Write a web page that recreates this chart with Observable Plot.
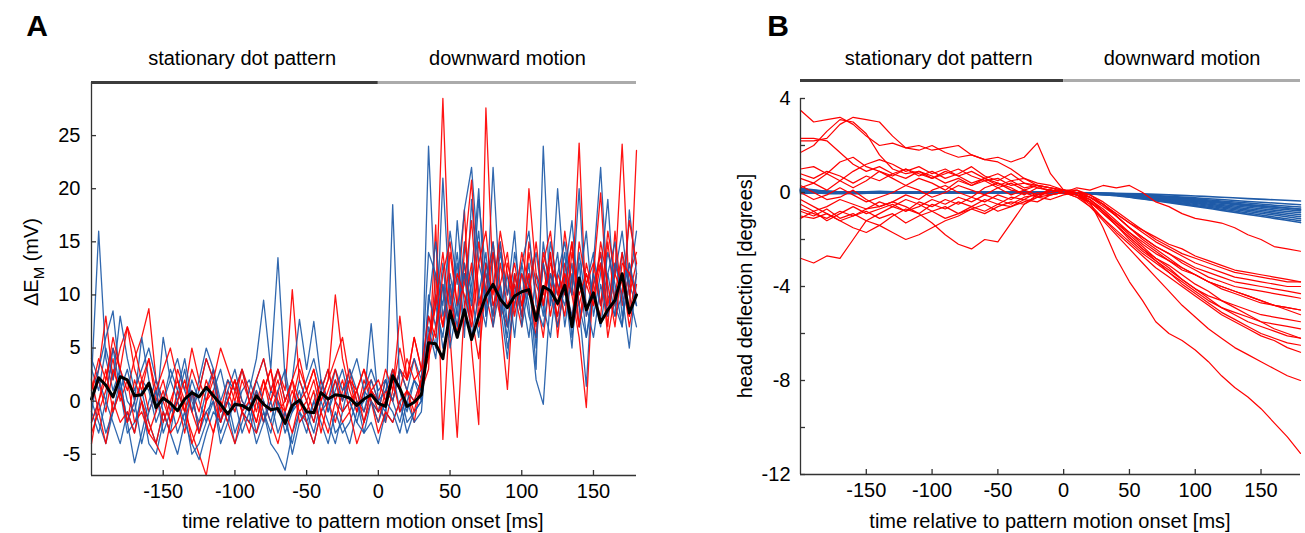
<!DOCTYPE html>
<html><head><meta charset="utf-8">
<script src="https://cdn.jsdelivr.net/npm/d3@7"></script>
<script src="https://cdn.jsdelivr.net/npm/@observablehq/plot@0.6"></script>
<style>
body{margin:0;background:#fff}
#wrap{position:relative;width:1305px;height:533px;font-family:"Liberation Sans",Arial,sans-serif}
#wrap svg{position:absolute;top:0}
</style></head><body><div id="wrap"></div>
<script>
// ---------- Panel A: membrane potential traces (mV), sampled every 5 ms ----------
const timesA = d3.range(-200, 181, 5);
const blueA = [
 [2,16,4,1,3,0,-1,2,1,-2, 0,3,1,-1,2,0,-2,1,3,0, -1,1,2,0,-2,1,0,-3,-1,2, 0,-2,1,3,0,-1,2,0,-2,1, 0,-1,3,1,-1,2,0,24,9,6, 12,8,15,10,6,13,9,11,7,14, 10,6,12,8,15,11,9,13,7,11, 14,9,12,8,10,13,9],
 [-1,3,6,8.5,2,-2,-5.8,-3,0,2, -1,-3,1,4,0,-2,1,3,-1,0, 2,-1,1,4,9.5,3,13.5,2,-1,1, -2,0,2,-1,1,3,0,-2,1,0, -1,2,0,-2,1,0,2,8,5,21, 9,14,7,11,16,8,22,10,6,12, 9,13,5,15,10,8,12,17,9,6, 11,14,8,12,16,10,7],
 [0,-2,-4,-1,1,-3,-2,0,-4,-5, -2,0,-3,-1,-5,-4,-2,0,-3,-1, -4,-2,0,-3,-1,-4,-5,-6.5,-3,-1, -2,-4,-1,0,-3,-2,-4,-1,0,7.3, 0,-2,18.5,1,-2,-1,0,6,10,5, 8,13,6,19,10,7,14,9,4,11, 8,12,3,24,9,20,11,8,13,6, 10,7,12,15,8,11,9],
 [3,1,5,2,8,4,1,3,5,2, 0,2,4,1,-1,2,5,3,0,2, 1,3,0,2,4,1,3,0,2,7.7, 3,7.5,2,0,3,1,2,4,1,3, 1,2,0,3,1,4,2,14,12,9, 16,11,18,22,13,10,15,8,12,6, 13,9,2,-0.3,10,14,7,12,9,1.4, 13,22,10,8,14,11,16],
 [-1,-3,0,-2,-4,-1,-3,1,-2,-4, -1,-3,-5,-2,-4,-5.5,-3,-1,-2,0, -3,-1,-2,1,-1,-3,0,-2,-4,-1, -3,0,-2,-4,-1,-3,-2,0,-3,-2, -4,-1,-2,0,-3,-1,0,10,7,13, 6,17,9,12,20,8,11,15,7,10, 13,16,9,7,12,10,14,6,11,16, 8,12,19,9,7,13,10],
 [4,2,0,5,1,3,0,6,2,-1, 6,2,0,3,-1,1,4,2,-2,1, 3,0,-1,2,0,-2,1,3,-1,0, 2,4,1,-1,2,0,3,1,-1,2, 0,1,3,-1,0,2,1,9,15,8, 11,7,13,9,19,12,8,14,10,16, 7,11,14,9,6,12,15,10,20,8, 12,9,14,11,7,18,12],
 [-2,0,-3,-1,2,-2,0,-4,-1,1, -3,-1,0,-2,1,-3,-1,0,-4,-2, 0,-3,-1,-4,-2,0,-3,-1,-5,-2, -1,-3,0,-2,-4,-1,0,-2,-3,0, -2,0,-1,-3,0,-2,-1,7,4,11, 5,9,12,6,10,14,7,11,5,9, 12,8,6,13,10,7,11,5,14,9, 6,11,8,13,10,5,12]
];
const redA = [
 [1,3,8,2,5,7,3,1,4,0, 2,-1,3,1,5,2,0,3,-1,2, 0,3,1,-1,2,0,3,1,10.5,2, 0,-2,1,3,0,2,-1,1,3,0, -1,2,0,3,1,-2,2,5,9,28.5, 10,6,13,8,4,11,15,9,7,12, 8,14,10,6,12,9,16,11,7,13, 10,8,15,9,12,7,11],
 [-4,0,2,5,3,1,4,6,8.7,2, 0,-2,1,-1,-3,-5,-7,-3,0,-2, 1,-1,-3,0,2,-1,1,-2,0,3, 1,-1,2,0,-2,1,3,0,-1,1, 0,-2,1,5,2,6,3,4,12,7, 14,9,18,5,-2.2,27.6,11,8,13,10, 7,15,11,9,14,6,12,10,24.3,8, 11,13,7,16,9,12,14],
 [2,-1,1,4,0,2,-2,-1,-3,-4, -5.4,-2,0,-3,1,-1,2,0,-2,1, -1,2,0,-2,1,3,0,-1,2,0, 1,3,0,2,10,4,1,-1,2,0, -2,1,0,3,2,4,1,3,16.6,-3.6, 9,6,12,8,15,10,7,13,9,11, 8,20,12,10,14,7,11,15,9,12, 10,14,8,12,24.2,10,13],
 [0,2,-1,3,1,-2,0,2,-1,1, -2,0,2,-1,1,-3,0,2,-1,0, 2,0,-1,1,-2,0,2,-1,1,-1, 0,2,-1,1,3,0,2,-1,1,2, 0,3,1,8,2,6,3,5,10,7, 11,6,14,20.8,9,12,8,15,10,13, 9,12,7,14,11,8,13,10,6,-0.6, 12,19.6,9,13,11,8,23.6],
 [-3,-1,-4,0,-2,-1,-3,0,-2,-4, -1,-3,-2,0,-4,-2,-1,-3,0,-2, -4,-1,-2,-3,0,-2,-4,-1,-3,0, -2,-4,-1,-3,0,-2,-1,-4,-2,0, -3,-1,-2,0,1,-1,2,4,7,11, 6,-3.4,9,13,7,10,14,8,1.1,12, 9,11,6,13,8,12,10,15,7,11, 9,13,6,10,14,8,12],
 [1,4,2,6,3,7,5,2,4,1, 3,5,2,0,3,1,4,2,5,3, 1,3,0,2,4,1,3,0,2,4, 1,3,0,2,4,6,2,1,3,1, 2,0,3,1,4,2,3,8,6,12, 15,9,11,17,8,13,10,16,12,9, 14,11,8,13,16,10,12,7,15,11, 13,9,16,12,10,17,13],
 [-2,0,3,-1,1,-2,2,0,-3,-1, 1,-2,0,2,-1,-3,0,1,-2,0, 2,-1,0,-2,1,3,-1,0,2,-2, -1,1,-3,0,2,-1,0,1,-2,1, -1,0,2,-1,1,0,2,6,9,14, 8,12,10,7,13,16,9,11,14,8, 12,10,15,9,13,11,8,14,10,12, 9,15,11,7,13,12,10]
];
const meanA = [0.2,2.2,1.5,0.4,2.3,2.0,0.5,0.6,1.7,-0.6, 0.3,-0.2,-0.9,0.2,0.8,0.4,1.3,0.5,-0.3,-1.2, -0.3,-0.4,-0.8,0.5,-0.3,-0.8,-0.7,-2.1,-0.4,0.1, -1.0,-1.1,0.8,0.2,0.6,0.5,0.3,-0.4,0.2,0.6, -0.2,-0.5,2.4,1.2,-0.5,-0.1,0.6,5.5,5.4,4.0, 8.5,6.0,8.6,5.8,8.0,9.9,11.0,9.6,8.8,9.9, 10.3,10.5,7.6,10.8,10.4,9.2,10.9,7.0,11.6,8.6, 10.2,7.4,8.6,9.5,12.0,8.3,10.0];

// ---------- Panel B: head deflection traces (degrees) ----------
const timesB = d3.range(-200, 181, 10);
const redB = [
 [3.5,3.0,3.1,3.2,2.9,2.4,2.0,2.1,1.9,1.8,2.0,1.7,1.5,1.6,1.4,1.3,1.0,0.6,0.3,0.2,0.1, 0.0,-0.3,-0.8,-1.3,-1.7,-2.2,-2.6,-2.9,-3.3,-3.5,-3.8,-4.0,-4.2,-4.4,-4.6,-4.8,-4.9,-5.0],
 [2.2,2.2,2.3,2.9,3.2,3.1,3.0,2.4,1.9,2.0,1.8,1.9,2.0,1.6,1.4,1.5,1.3,1.5,2.1,0.8,0.1, 0.1,-0.2,-0.5,-1.0,-1.5,-1.9,-2.3,-2.6,-3.0,-3.3,-3.6,-3.8,-4.0,-4.1,-4.2,-4.3,-4.4,-4.5],
 [1.7,2.0,2.6,3.1,3.0,2.5,1.6,1.0,0.8,0.9,0.6,0.8,1.0,0.7,0.5,0.6,0.3,0.4,0.2,0.1,0.0, -0.1,-0.4,-0.9,-1.4,-1.9,-2.4,-2.8,-3.1,-3.5,-3.9,-4.2,-4.6,-4.9,-5.2,-5.5,-5.8,-6.0,-6.2],
 [1.0,1.1,0.8,1.3,1.5,1.1,0.9,0.7,1.0,0.8,0.6,0.9,0.7,0.4,0.6,0.3,0.5,0.2,0.3,0.0,0.1, 0.0,-0.2,-0.5,-0.9,-1.3,-1.6,-1.9,-2.2,-2.4,-2.7,-2.9,-3.1,-3.3,-3.4,-3.5,-3.6,-3.7,-3.8],
 [0.6,0.4,0.8,0.5,0.2,0.5,0.9,0.6,0.3,0.6,0.4,0.1,0.5,0.3,0.6,0.4,0.2,-0.1,0.2,0.1,0.0, -0.2,-0.4,-0.9,-1.4,-2.0,-2.5,-2.9,-3.3,-3.7,-4.1,-4.4,-4.6,-4.8,-5.0,-5.2,-5.3,-5.4,-5.5],
 [0.3,0.0,-0.3,-0.2,0.1,-0.3,-0.6,-0.4,-0.1,-0.3,0.1,0.3,0.0,-0.2,0.2,0.4,0.1,0.0,-0.2,0.1,0.0, -0.1,-0.5,-1.1,-1.7,-2.2,-2.7,-3.2,-3.6,-4.0,-4.4,-4.8,-5.2,-5.5,-5.8,-6.1,-6.3,-6.6,-6.8],
 [-0.5,-0.8,-0.6,-0.3,-0.5,-0.7,-0.6,-0.4,-0.6,-0.9,-1.3,-1.8,-2.2,-2.4,-2.0,-2.1,-1.3,-0.5,-0.1,0.1,0.0, -0.1,-0.6,-1.2,-1.8,-2.4,-3.0,-3.6,-4.2,-4.8,-5.3,-5.8,-6.2,-6.6,-6.9,-7.2,-7.5,-7.8,-8.0],
 [-0.8,-1.0,-0.7,-1.1,-0.9,-1.2,-1.4,-1.7,-2.0,-1.8,-1.5,-1.2,-1.0,-0.7,-0.9,-0.6,-0.4,-0.5,-0.2,-0.1,0.0, 0.1,-0.1,-0.5,-1.0,-1.5,-2.0,-2.4,-2.8,-3.2,-3.5,-3.8,-4.1,-4.3,-4.5,-4.7,-4.8,-4.9,-5.0],
 [-2.8,-3.0,-2.7,-2.8,-2.0,-1.2,-0.9,-0.6,-0.8,-0.4,-0.6,-0.3,-0.5,-0.2,-0.4,-0.1,-0.3,0.0,-0.2,0.1,0.0, 0.0,-0.4,-1.5,-2.8,-3.8,-4.6,-5.5,-6.0,-6.3,-6.7,-7.2,-7.8,-8.3,-8.7,-9.2,-9.8,-10.4,-11.1],
 [-1.0,-1.1,-0.9,-1.2,-1.0,-0.8,-1.1,-0.9,-1.3,-1.0,-0.8,-1.1,-0.9,-0.6,-0.8,-0.5,-0.6,-0.3,-0.4,-0.1,0.0, 0.2,0.1,0.3,0.2,0.3,0.0,-0.4,-0.6,-0.9,-1.1,-1.2,-1.3,-1.5,-1.8,-2.0,-2.3,-2.4,-2.5],
 [0.0,-0.3,-0.1,0.2,-0.1,-0.4,-0.2,0.0,0.3,0.1,-0.2,0.0,0.3,0.1,-0.1,0.2,-0.1,0.1,-0.1,0.0,0.1, -0.1,-0.3,-0.8,-1.3,-1.8,-2.3,-2.8,-3.2,-3.7,-4.1,-4.5,-4.9,-5.2,-5.5,-5.7,-5.9,-6.1,-6.2],
 [0.8,0.6,0.9,0.7,0.4,0.7,0.5,0.8,1.0,0.7,0.9,0.6,0.8,1.1,0.7,0.5,0.8,0.4,0.3,0.2,0.1, 0.0,-0.2,-0.6,-1.0,-1.5,-1.9,-2.3,-2.6,-2.9,-3.2,-3.4,-3.6,-3.8,-3.9,-4.0,-4.1,-4.2,-4.3],
 [-0.3,-0.6,-0.9,-1.2,-1.5,-1.7,-1.4,-1.0,-0.7,-0.9,-0.5,-0.7,-0.4,-0.6,-0.3,-0.5,-0.2,-0.3,0.0,-0.1,0.0, -0.2,-0.6,-1.1,-1.6,-2.1,-2.6,-3.0,-3.4,-3.8,-4.2,-4.6,-4.9,-5.1,-5.3,-5.5,-5.6,-5.7,-5.8],
 [0.2,0.4,0.1,0.5,0.9,1.2,1.4,1.2,0.9,1.1,0.8,1.0,0.7,0.9,0.6,0.8,0.5,0.6,0.4,0.3,0.1, -0.1,-0.2,-0.5,-0.9,-1.3,-1.7,-2.1,-2.4,-2.7,-3.0,-3.2,-3.4,-3.6,-3.7,-3.8,-3.9,-4.0,-4.0],
 [-1.1,-0.8,-1.2,-0.9,-0.6,-0.9,-0.7,-0.5,-0.8,-0.6,-0.3,-0.5,-0.2,-0.4,-0.1,-0.3,-0.5,-0.2,-0.1,0.1,0.0, -0.1,-0.4,-0.8,-1.4,-1.9,-2.4,-2.9,-3.4,-3.9,-4.3,-4.7,-5.1,-5.4,-5.7,-6.0,-6.2,-6.4,-6.5],
 [2.3,2.3,2.2,1.7,1.2,0.9,1.1,0.8,0.6,0.9,0.7,0.4,0.6,0.3,0.5,0.2,0.4,0.1,0.3,0.2,0.0, -0.1,-0.3,-0.7,-1.2,-1.7,-2.1,-2.5,-2.9,-3.2,-3.5,-3.8,-4.0,-4.2,-4.4,-4.6,-4.8,-5.0,-5.2],
 [-0.7,-0.9,-1.1,-0.8,-1.0,-0.7,-0.4,-0.6,-0.3,-0.5,-0.8,-0.6,-0.9,-0.7,-0.5,-0.8,-0.6,-0.4,-0.2,-0.3,-0.1, 0.0,-0.1,-0.4,-0.8,-1.2,-1.6,-2.0,-2.3,-2.6,-2.8,-3.0,-3.2,-3.4,-3.5,-3.6,-3.7,-3.8,-3.8]
];
const timesBlueB = d3.range(-200, 181, 20);
const blueB = [
 [0.15,0.05,0.0,0.05,0.0,0.02,0.0,0.0,0.01,0.0,0.0,-0.01,-0.03,-0.06,-0.1,-0.15,-0.2,-0.26,-0.31,-0.36],
 [0.1,0.0,-0.05,0.0,-0.02,0.0,0.01,0.0,0.0,0.0,0.0,-0.02,-0.05,-0.1,-0.16,-0.23,-0.3,-0.38,-0.45,-0.52],
 [0.05,-0.05,-0.02,0.0,0.02,-0.01,0.0,0.0,0.0,0.01,0.0,-0.02,-0.06,-0.12,-0.19,-0.27,-0.36,-0.45,-0.54,-0.62],
 [0.12,0.02,0.03,-0.02,0.0,0.0,0.02,-0.01,0.0,0.0,0.0,-0.03,-0.07,-0.14,-0.22,-0.31,-0.41,-0.51,-0.61,-0.7],
 [-0.05,0.0,0.02,0.0,-0.01,0.01,0.0,0.0,0.0,0.0,0.0,-0.03,-0.08,-0.16,-0.25,-0.35,-0.46,-0.57,-0.68,-0.78],
 [0.08,-0.02,0.0,0.03,0.0,0.0,-0.01,0.0,0.01,0.0,0.0,-0.03,-0.09,-0.18,-0.28,-0.39,-0.51,-0.63,-0.75,-0.86],
 [0.18,0.06,0.01,0.0,0.02,0.0,0.0,0.01,0.0,0.0,0.0,-0.04,-0.1,-0.2,-0.31,-0.43,-0.56,-0.69,-0.82,-0.95],
 [0.0,0.04,-0.03,0.0,0.0,0.02,0.0,0.0,0.0,0.0,0.0,-0.04,-0.11,-0.22,-0.34,-0.47,-0.61,-0.75,-0.89,-1.03],
 [0.1,0.0,0.0,0.02,-0.02,0.0,0.0,0.0,0.01,0.0,0.0,-0.05,-0.12,-0.24,-0.37,-0.51,-0.66,-0.81,-0.96,-1.12],
 [0.06,0.0,0.02,0.0,0.0,-0.02,0.0,0.0,0.0,0.0,0.0,-0.05,-0.13,-0.26,-0.4,-0.55,-0.71,-0.87,-1.04,-1.2],
 [0.14,0.03,0.0,0.0,0.01,0.0,0.0,0.0,0.0,0.0,0.0,-0.06,-0.14,-0.28,-0.43,-0.59,-0.76,-0.93,-1.1,-1.28],
 [0.02,-0.03,0.0,0.02,0.0,0.0,0.0,0.0,0.0,0.0,0.0,-0.03,-0.08,-0.15,-0.24,-0.33,-0.43,-0.53,-0.62,-0.72]
];

// ---------- shared labels / ticks ----------
const phases = [
  {label: "stationary dot pattern", x1: -200, x2: 0, cx: -95, shade: "#3c3c3c"},
  {label: "downward motion", x1: 0, x2: 180, cx: 90, shade: "#ababab"}
];
const xTicks = [-150, -100, -50, 0, 50, 100, 150];
const yTicksA = [-5, 0, 5, 10, 15, 20, 25];
const yTicksB = [4, 0, -4, -8, -12];
const yMinorB = [2, -2, -6, -10];
const xLabel = "time relative to pattern motion onset [ms]";

const BLUE = "#1f5ba8", RED = "#ff0000";
const FONT = '"Liberation Sans", Arial, sans-serif';
const fmt = d => String(d);  // plain hyphen-minus like the original

function rows(arr, times, color, prefix) {
  return arr.flatMap((vals, k) => vals.slice(0, times.length).map((v, i) => ({t: times[i], v, id: prefix + k, c: color})));
}
// interleave blue and red traces in panel A
const rowsA = [];
for (let k = 0; k < Math.max(blueA.length, redA.length); k++) {
  if (blueA[k]) rowsA.push(...rows([blueA[k]], timesA, BLUE, "b" + k));
  if (redA[k]) rowsA.push(...rows([redA[k]], timesA, RED, "r" + k));
}
const meanRows = meanA.map((v, i) => ({t: timesA[i], v}));
const rowsBblue = rows(blueB, timesBlueB, BLUE, "bb");
const rowsBred = rows(redB, timesB, RED, "rb");

const axisStyle = {stroke: "#333", strokeWidth: 1.3};

const plotA = Plot.plot({
  width: 650, height: 533,
  marginTop: 82, marginBottom: 58, marginLeft: 91, marginRight: 14,
  style: {fontSize: "20px", fontFamily: FONT, color: "#000", background: "transparent", overflow: "visible"},
  x: {domain: [-200, 180], axis: null},
  y: {domain: [-7, 30], axis: null},
  marks: [
    Plot.line(rowsA, {x: "t", y: "v", z: "id", stroke: "c", strokeWidth: 1.3, strokeOpacity: 0.92}),
    Plot.line(meanRows, {x: "t", y: "v", stroke: "#000", strokeWidth: 3}),
    Plot.ruleX([-200], {...axisStyle}),
    Plot.ruleY([-7], {...axisStyle}),
    Plot.axisX(xTicks, {anchor: "bottom", tickSize: -5, tickPadding: 13, tickFormat: fmt, ...axisStyle, label: null, fill: "#000"}),
    Plot.axisY(yTicksA, {anchor: "left", tickSize: -5, tickPadding: 16, tickFormat: fmt, ...axisStyle, label: null, fill: "#000"}),
    Plot.ruleY(phases, {y: () => 30, x1: "x1", x2: "x2", stroke: "shade", strokeWidth: 3}),
    Plot.text(phases, {x: "cx", text: "label", frameAnchor: "top", lineAnchor: "middle", dy: -24, fontSize: 20, fill: "#000"})
  ]
});

const plotB = Plot.plot({
  width: 625, height: 533,
  marginTop: 98, marginBottom: 59, marginLeft: 120, marginRight: 5,
  style: {fontSize: "20px", fontFamily: FONT, color: "#000", background: "transparent", overflow: "visible"},
  x: {domain: [-200, 180], axis: null},
  y: {domain: [-12, 4], axis: null},
  marks: [
    Plot.line(rowsBblue, {x: "t", y: "v", z: "id", stroke: "c", strokeWidth: 1.6, curve: "catmull-rom"}),
    Plot.line(rowsBred, {x: "t", y: "v", z: "id", stroke: "c", strokeWidth: 1.2}),
    Plot.ruleX([-200], {...axisStyle}),
    Plot.ruleY([-12], {...axisStyle}),
    Plot.axisX(xTicks, {anchor: "bottom", tickSize: -5, tickPadding: 13, tickFormat: fmt, ...axisStyle, label: null, fill: "#000"}),
    Plot.axisY(yTicksB, {anchor: "left", tickSize: -5, tickPadding: 15, tickFormat: fmt, ...axisStyle, label: null, fill: "#000"}),
    Plot.axisY(yMinorB, {anchor: "left", tickSize: -5, tickFormat: () => "", ...axisStyle, label: null}),
    Plot.ruleY(phases, {y: () => 4, dy: -18, x1: "x1", x2: "x2", stroke: "shade", strokeWidth: 3}),
    Plot.text(phases, {x: "cx", text: "label", frameAnchor: "top", lineAnchor: "middle", dy: -40, fontSize: 20, fill: "#000"})
  ]
});

const wrap = document.getElementById("wrap");
plotA.style.left = "0px";
plotB.style.left = "680px";
wrap.appendChild(plotA);
wrap.appendChild(plotB);

// panel letters, axis titles
const sA = d3.select(plotA), sB = d3.select(plotB);
sA.append("text").attr("x", 37).attr("y", 36).attr("font-size", 30).attr("font-weight", "bold").attr("font-family", FONT).text("A");
sB.append("text").attr("x", 98).attr("y", 36).attr("font-size", 30).attr("font-weight", "bold").attr("font-family", FONT).text("B");
sA.append("text").attr("x", 363).attr("y", 528).attr("text-anchor", "middle").attr("font-size", 20).attr("font-family", FONT).text(xLabel);
sB.append("text").attr("x", 370).attr("y", 528).attr("text-anchor", "middle").attr("font-size", 20).attr("font-family", FONT).text(xLabel);
const yl = sA.append("text").attr("transform", "translate(38,262) rotate(-90)").attr("text-anchor", "middle").attr("font-size", 20).attr("font-family", FONT);
yl.append("tspan").text("ΔE");
yl.append("tspan").attr("dy", 6).attr("font-size", 15).text("M");
yl.append("tspan").attr("dy", -6).text(" (mV)");
sB.append("text").attr("transform", "translate(72,286) rotate(-90)").attr("text-anchor", "middle").attr("font-size", 20).attr("font-family", FONT).text("head deflection [degrees]");
</script></body></html>
